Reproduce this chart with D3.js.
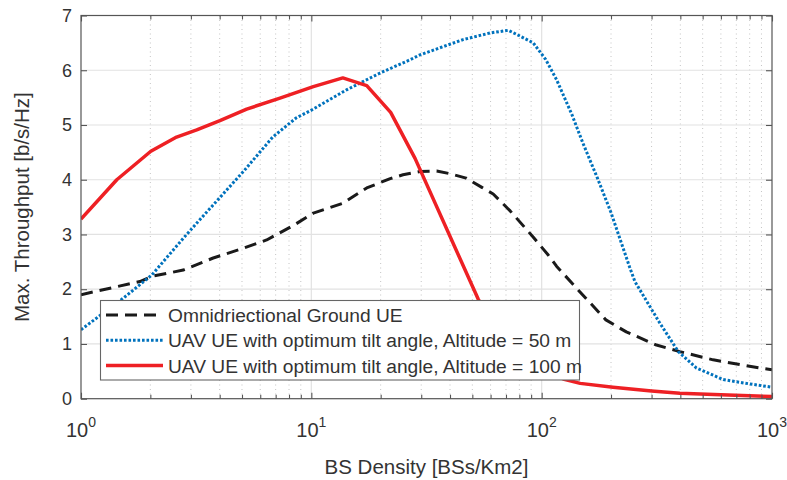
<!DOCTYPE html>
<html>
<head>
<meta charset="utf-8">
<script src="https://cdn.jsdelivr.net/npm/d3@7"></script>
<style>
  body { margin: 0; background: #fff; }
  svg { display: block; }
  text { font-family: "Liberation Sans", Arial, Helvetica, sans-serif; fill: #333; }
</style>
</head>
<body>
<svg id="chart" width="787" height="480"></svg>
<script>
// Omnidirectional ground UE
const omniX = [1, 1.8, 2.06, 2.78, 3.75, 5, 6.4, 8.4, 10.2, 13.7, 17.4, 22, 25, 29.6, 35, 40, 47, 55, 61.6, 73, 92, 107, 116, 146, 190, 233, 315, 398, 555, 886, 1000];
const omniY = [1.9, 2.14, 2.24, 2.35, 2.57, 2.74, 2.9, 3.17, 3.39, 3.57, 3.85, 4.02, 4.09, 4.15, 4.16, 4.11, 4.03, 3.86, 3.74, 3.43, 2.95, 2.62, 2.42, 1.96, 1.44, 1.22, 0.98, 0.86, 0.71, 0.56, 0.53];

// UAV UE, optimum tilt, altitude 50 m
const uav50X = [1, 1.53, 2.03, 2.78, 3.28, 5.07, 6.8, 8.6, 10, 14.2, 19.9, 26.8, 29.6, 45.6, 59.6, 71.6, 80, 91.9, 104, 116, 135, 151, 175, 200, 241, 254, 326, 392, 470, 614, 800, 1000];
const uav50Y = [1.26, 1.84, 2.26, 2.93, 3.27, 4.15, 4.78, 5.13, 5.27, 5.64, 5.95, 6.19, 6.28, 6.56, 6.68, 6.73, 6.63, 6.5, 6.2, 5.83, 5.2, 4.67, 4.02, 3.4, 2.4, 2.14, 1.38, 0.86, 0.56, 0.35, 0.27, 0.21];

// UAV UE, optimum tilt, altitude 100 m
const uav100X = [1, 1.43, 2.01, 2.6, 3.18, 4.01, 5.24, 7.31, 10.2, 13.7, 17.4, 22.1, 28.2, 53, 60, 70, 80, 100, 124, 147, 204, 300, 398, 600, 1000];
const uav100Y = [3.28, 4.0, 4.52, 4.78, 4.91, 5.08, 5.29, 5.49, 5.7, 5.86, 5.72, 5.23, 4.39, 1.82, 1.45, 1.05, 0.78, 0.52, 0.36, 0.28, 0.21, 0.14, 0.1, 0.07, 0.04];

const seriesNames = [
  "Omnidriectional Ground UE",
  "UAV UE with optimum tilt angle, Altitude = 50 m",
  "UAV UE with optimum tilt angle, Altitude = 100 m"
];
const xTickExps = [0, 1, 2, 3];
const yTicks = [0, 1, 2, 3, 4, 5, 6, 7];

const svg = d3.select("#chart");
const plot = { left: 81, right: 772, top: 15.5, bottom: 398.7 };

const x = d3.scaleLog().domain([1, 1000]).range([plot.left, plot.right]);
const y = d3.scaleLinear().domain([0, 7]).range([plot.bottom, plot.top]);

const majorX = xTickExps.map(e => Math.pow(10, e));
const minorX = x.ticks().filter(v => !majorX.some(m => Math.abs(m - v) < 1e-9));

// grid
const grid = svg.append("g");
grid.selectAll("line.minor").data(minorX).join("line")
  .attr("x1", d => x(d)).attr("x2", d => x(d))
  .attr("y1", plot.top).attr("y2", plot.bottom)
  .attr("stroke", "#c4c4c4").attr("stroke-width", 1)
  .attr("stroke-dasharray", "1,3.5");
grid.selectAll("line.vmaj").data(majorX.slice(1, -1)).join("line")
  .attr("x1", d => x(d)).attr("x2", d => x(d))
  .attr("y1", plot.top).attr("y2", plot.bottom)
  .attr("stroke", "#e2e2e2").attr("stroke-width", 1.2);
grid.selectAll("line.hmaj").data(yTicks.slice(1, -1)).join("line")
  .attr("x1", plot.left).attr("x2", plot.right)
  .attr("y1", d => y(d)).attr("y2", d => y(d))
  .attr("stroke", "#e2e2e2").attr("stroke-width", 1.2);

// curves
svg.append("clipPath").attr("id", "clip").append("rect")
  .attr("x", plot.left).attr("y", plot.top)
  .attr("width", plot.right - plot.left).attr("height", plot.bottom - plot.top);

const line = d3.line().x(d => x(d[0])).y(d => y(d[1]));
const series = [
  { xs: omniX, ys: omniY, color: "#1a1a1a", width: 3, dash: "12,7" },
  { xs: uav50X, ys: uav50Y, color: "#0072bd", width: 3, dash: "2.6,1.9" },
  { xs: uav100X, ys: uav100Y, color: "#ee2024", width: 3.5, dash: null }
];
const curves = svg.append("g").attr("clip-path", "url(#clip)");
series.forEach(s => {
  curves.append("path")
    .datum(s.xs.map((v, i) => [v, s.ys[i]]))
    .attr("d", line)
    .attr("fill", "none")
    .attr("stroke", s.color)
    .attr("stroke-width", s.width)
    .attr("stroke-linejoin", "round")
    .attr("stroke-dasharray", s.dash);
});

// axes with inward ticks on all four sides
const axisColor = "#555";
function styleAxis(g) {
  g.select(".domain").remove();
  g.selectAll(".tick line").attr("stroke", axisColor).attr("stroke-width", 1.1);
}
svg.append("g").attr("transform", `translate(0,${plot.bottom})`)
  .call(d3.axisBottom(x).tickValues(majorX).tickSize(-6).tickFormat(""))
  .call(styleAxis);
svg.append("g").attr("transform", `translate(0,${plot.bottom})`)
  .call(d3.axisBottom(x).tickValues(minorX).tickSize(-4).tickFormat(""))
  .call(styleAxis);
svg.append("g").attr("transform", `translate(0,${plot.top})`)
  .call(d3.axisTop(x).tickValues(majorX).tickSize(-6).tickFormat(""))
  .call(styleAxis);
svg.append("g").attr("transform", `translate(0,${plot.top})`)
  .call(d3.axisTop(x).tickValues(minorX).tickSize(-4).tickFormat(""))
  .call(styleAxis);
const yAxis = svg.append("g").attr("transform", `translate(${plot.left},0)`)
  .call(d3.axisLeft(y).tickValues(yTicks).tickSize(-6).tickPadding(9).tickFormat(d3.format("d")))
  .call(styleAxis);
yAxis.selectAll(".tick text")
  .attr("font-size", 18).attr("fill", "#333")
  .attr("font-family", "Liberation Sans, Arial, sans-serif");
svg.append("g").attr("transform", `translate(${plot.right},0)`)
  .call(d3.axisRight(y).tickValues(yTicks).tickSize(-6).tickFormat(""))
  .call(styleAxis);

// x tick labels as powers of ten
const xl = svg.append("g").selectAll("text").data(xTickExps).join("text")
  .attr("x", d => x(Math.pow(10, d)))
  .attr("y", 436.7)
  .attr("text-anchor", "middle")
  .attr("font-size", 20);
xl.append("tspan").text("10");
xl.append("tspan").attr("dy", -10).attr("font-size", 14).text(d => d);

// box
svg.append("rect")
  .attr("x", plot.left).attr("y", plot.top)
  .attr("width", plot.right - plot.left).attr("height", plot.bottom - plot.top)
  .attr("fill", "none").attr("stroke", axisColor).attr("stroke-width", 1.2);

// axis titles
svg.append("text")
  .attr("x", (plot.left + plot.right) / 2).attr("y", 474)
  .attr("text-anchor", "middle").attr("font-size", 20.5)
  .text("BS Density [BSs/Km2]");
svg.append("text")
  .attr("transform", `translate(29,${(plot.top + plot.bottom) / 2}) rotate(-90)`)
  .attr("text-anchor", "middle").attr("font-size", 20.5)
  .text("Max. Throughput [b/s/Hz]");

// legend
const legend = svg.append("g");
legend.append("rect")
  .attr("x", 100.5).attr("y", 300.5).attr("width", 479).attr("height", 79.5)
  .attr("fill", "#fff").attr("stroke", "#666").attr("stroke-width", 1.1);
const rows = legend.selectAll("g.row").data(seriesNames).join("g")
  .attr("transform", (d, i) => `translate(0,${315 + i * 25.3})`);
rows.append("line")
  .attr("x1", 106).attr("x2", 163).attr("y1", 0).attr("y2", 0)
  .attr("stroke", (d, i) => series[i].color)
  .attr("stroke-width", (d, i) => series[i].width)
  .attr("stroke-dasharray", (d, i) => series[i].dash);
rows.append("text")
  .attr("x", 168).attr("y", 7)
  .attr("font-size", 19.2)
  .attr("fill", "#222")
  .text(d => d);
</script>
</body>
</html>
